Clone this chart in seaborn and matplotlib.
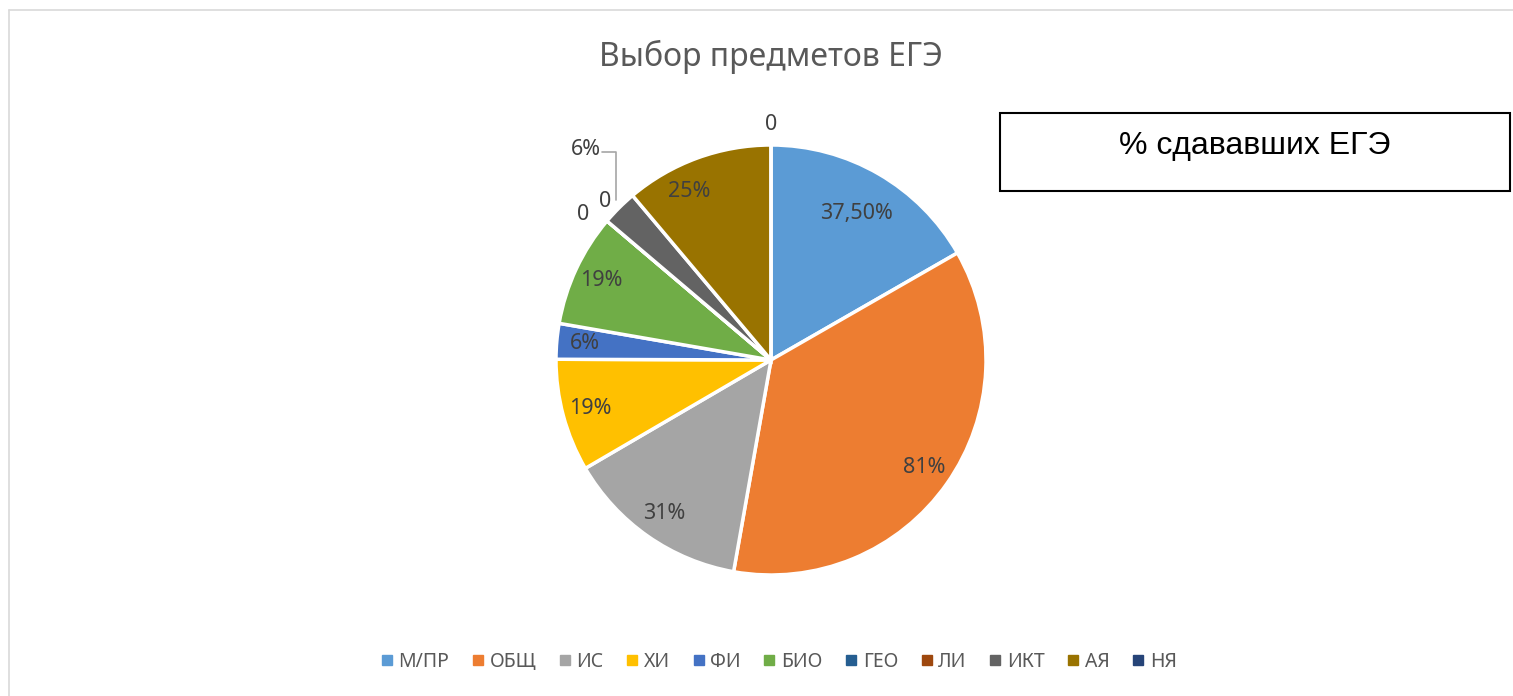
import numpy as np
import matplotlib
matplotlib.use("Agg")
import matplotlib.pyplot as plt
import seaborn as sns
from matplotlib.lines import Line2D
from matplotlib.patches import Rectangle

# Data
subjects = ["М/ПР", "ОБЩ", "ИС", "ХИ", "ФИ", "БИО", "ГЕО", "ЛИ", "ИКТ", "АЯ", "НЯ"]
shares = [37.5, 81, 31, 19, 6, 19, 0, 0, 6, 25, 0]
value_labels = ["37,50%", "81%", "31%", "19%", "6%", "19%", "0", "0", "6%", "25%", "0"]
colors = ["#5B9BD5", "#ED7D31", "#A5A5A5", "#FFC000", "#4472C4", "#70AD47",
          "#255E91", "#9E480E", "#636363", "#997300", "#264478"]

sns.set_theme(style="white")
plt.rcParams["font.family"] = ["Noto Sans", "DejaVu Sans"]

W, H = 1513, 696
fig = plt.figure(figsize=(W / 100, H / 100), dpi=100)
fig.patch.set_facecolor("white")

# chart frame (top and left edges only visible)
fig.add_artist(Line2D([9 / W, 1], [1 - 10 / H, 1 - 10 / H], color="#D9D9D9", lw=1.2, transform=fig.transFigure))
fig.add_artist(Line2D([9 / W, 9 / W], [0, 1 - 10 / H], color="#D9D9D9", lw=1.2, transform=fig.transFigure))

cx, cy, r = 771, 696 - 360, 215
ax = fig.add_axes([(cx - r) / W, (cy - r) / H, 2 * r / W, 2 * r / H])
wedges, _ = ax.pie(shares, colors=sns.color_palette(colors), startangle=90, counterclock=False,
                   wedgeprops=dict(edgecolor="white", linewidth=2.5))
ax.set_xlim(-1, 1)
ax.set_ylim(-1, 1)
ax.set_aspect("equal")
ax.axis("off")

# data labels
lab_kw = dict(ha="center", va="center", fontsize=15.5, color="#404040")
zero_shifts = [(0.05, 0.04), (-0.05, -0.02)]
zero_seen = 0
for i, (w, txt, val) in enumerate(zip(wedges, value_labels, shares)):
    ang = np.deg2rad((w.theta1 + w.theta2) / 2)
    if val == 0:
        if i == len(shares) - 1:  # wedge at the top
            ax.text(0, 1.095, txt, clip_on=False, **lab_kw)
        else:
            x, y = 1.08 * np.cos(ang), 1.08 * np.sin(ang)
            sx, sy = zero_shifts[zero_seen]
            ax.text(x + sx, y + sy, txt, clip_on=False, **lab_kw)
            zero_seen += 1
        continue
    if i == 8:
        # small slice: label outside with a leader line
        x0 = 0.86 * np.cos(ang) - 0.115
        y0 = 0.745
        ax.plot([x0, x0, x0 - 0.065], [y0, y0 + 0.222, y0 + 0.222], color="#A6A6A6", lw=1.2, clip_on=False)
        ax.text(x0 - 0.07, y0 + 0.235, txt, ha="right", va="center", fontsize=15.5, color="#404040")
        continue
    d = 0.79 if i == 0 else 0.87
    if i == 9:
        ang += np.deg2rad(6)
    ax.text(d * np.cos(ang), d * np.sin(ang), txt, **lab_kw)

fig.text(cx / W, 1 - 57 / H, "Выбор предметов ЕГЭ", ha="center", va="center", fontsize=23, color="#595959")

# text box on the right
fig.add_artist(Rectangle((1000 / W, 1 - 191 / H), 510 / W, 78 / H, transform=fig.transFigure,
                         fill=False, edgecolor="black", lw=1.5))
fig.text(1255 / W, 1 - 146 / H, "% сдававших ЕГЭ", ha="center", va="center", fontsize=23,
         color="black", family=["Liberation Sans", "DejaVu Sans"])

handles = [Line2D([0], [0], marker="s", linestyle="none", markersize=7.5, markerfacecolor=c,
                  markeredgecolor=c) for c in colors]
fig.legend(handles, subjects, loc="center", bbox_to_anchor=(779 / W, 1 - 662 / H), ncol=len(subjects),
           frameon=False, fontsize=14, handlelength=0.6, handletextpad=0.3, columnspacing=1.17,
           labelcolor="#595959")

fig.savefig("out.png", dpi=100, facecolor="white")
